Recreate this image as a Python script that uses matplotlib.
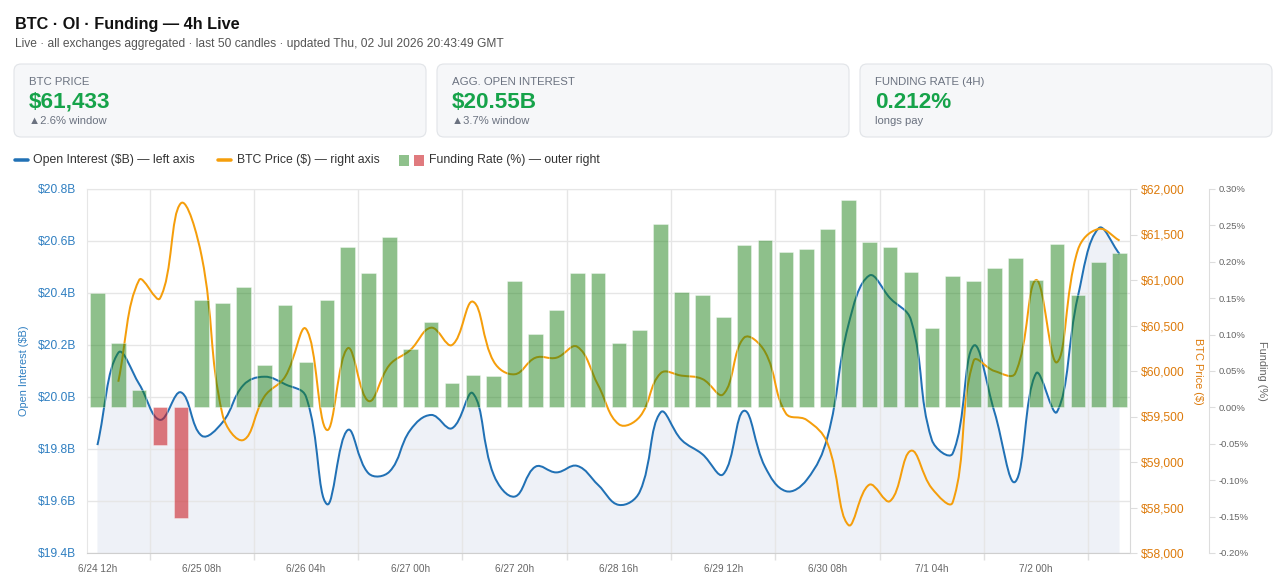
import numpy as np
import pandas as pd
import matplotlib
matplotlib.use("Agg")
import matplotlib.pyplot as plt
from matplotlib.path import Path
from matplotlib.patches import PathPatch, FancyBboxPatch, Rectangle
from matplotlib.ticker import FuncFormatter, FixedLocator

plt.rcParams['font.family'] = ['Liberation Sans', 'DejaVu Sans']

# ---- data ----
n_candles = 50
times = pd.date_range("2026-06-24 12:00", periods=n_candles, freq="4h")
tick_labels = [f"{t.month}/{t.day} {t.hour:02d}h" for t in times]

oi_b = [19.815, 20.170, 20.050, 19.912, 20.018, 19.851, 19.903, 20.046, 20.078, 20.049,
        20.001, 19.588, 19.873, 19.706, 19.713, 19.873, 19.931, 19.880, 20.014, 19.700,
        19.617, 19.732, 19.710, 19.735, 19.662, 19.585, 19.636, 19.941, 19.835, 19.780,
        19.703, 19.947, 19.732, 19.638, 19.681, 19.847, 20.277, 20.467, 20.380, 20.296,
        19.835, 19.783, 20.197, 19.943, 19.674, 20.091, 19.943, 20.386, 20.649, 20.550]

# price series starts on the 2nd candle
price = [59882, 61000, 60799, 61843, 61257, 59517, 59242, 59718, 59938, 60462, 59352, 60250,
         59670, 60066, 60231, 60476, 60286, 60762, 60103, 59964, 60146, 60146, 60267, 59846,
         59414, 59498, 59975, 59949, 59912, 59744, 60366, 60212, 59535, 59462, 59205, 58308,
         58750, 58571, 59124, 58711, 58557, 60110, 60000, 59975, 61000, 60096, 61330, 61561, 61433]
price_start = 1

funding = [0.157, 0.088, 0.0235, -0.051, -0.152, 0.147, 0.144, 0.165, 0.058, 0.141,
           0.062, 0.1475, 0.220, 0.185, 0.234, 0.080, 0.117, 0.0335, 0.0445, 0.043,
           0.174, 0.101, 0.134, 0.184, 0.185, 0.089, 0.107, 0.252, 0.1585, 0.154,
           0.124, 0.223, 0.230, 0.2135, 0.217, 0.2445, 0.285, 0.227, 0.220, 0.1865,
           0.109, 0.180, 0.1736, 0.192, 0.205, 0.1745, 0.225, 0.154, 0.1997, 0.212]

BLUE = '#2171b5'
ORANGE = '#f59e0b'
GREEN_TXT = '#16a34a'
GRID = '#e6e6e6'


def px(v):
    # pixels -> points at dpi 100
    return v * 0.72


def spline_path(x, y, sx, sy, t=0.4):
    # cubic bezier through the points, control points like chart.js (tension 0.4)
    X = np.asarray(x, float) * sx
    Y = np.asarray(y, float) * sy
    n = len(X)
    cpp = np.zeros((n, 2))
    cpn = np.zeros((n, 2))
    for i in range(n):
        a = max(i - 1, 0)
        b = min(i + 1, n - 1)
        d01 = np.hypot(X[i] - X[a], Y[i] - Y[a])
        d12 = np.hypot(X[b] - X[i], Y[b] - Y[i])
        s = d01 + d12
        fa = t * d01 / s if s else 0
        fb = t * d12 / s if s else 0
        cpp[i] = (X[i] - fa * (X[b] - X[a]), Y[i] - fa * (Y[b] - Y[a]))
        cpn[i] = (X[i] + fb * (X[b] - X[a]), Y[i] + fb * (Y[b] - Y[a]))
    verts = [(X[0], Y[0])]
    codes = [Path.MOVETO]
    for i in range(n - 1):
        verts += [tuple(cpn[i]), tuple(cpp[i + 1]), (X[i + 1], Y[i + 1])]
        codes += [Path.CURVE4] * 3
    v = np.array(verts)
    v[:, 0] /= sx
    v[:, 1] /= sy
    return v, codes


W, H = 1284, 587
fig = plt.figure(figsize=(W / 100, H / 100), dpi=100)
fig.patch.set_facecolor('white')

# overlay in pixel coords for header, cards, legend, axis titles
ov = fig.add_axes([0, 0, 1, 1])
ov.set_xlim(0, W)
ov.set_ylim(H, 0)
ov.axis('off')

ov.text(15, 24, "BTC · OI · Funding — 4h Live", fontsize=px(16.2), fontweight='bold',
        color='#111111', va='center', ha='left')
ov.text(15, 44, "Live · all exchanges aggregated · last 50 candles · updated Thu, 02 Jul 2026 20:43:49 GMT",
        fontsize=px(12), color='#555555', va='center', ha='left')

price_chg = (price[-1] / price[0] - 1) * 100
oi_chg = (oi_b[-1] / oi_b[0] - 1) * 100
cards = [
    ("BTC PRICE", f"${price[-1]:,.0f}", f"▲{price_chg:.1f}% window"),
    ("AGG. OPEN INTEREST", f"${oi_b[-1]:.2f}B", f"▲{oi_chg:.1f}% window"),
    ("FUNDING RATE (4H)", f"{funding[-1]:.3f}%", "longs pay"),
]
card_x = [14, 437, 860]
for cx, (lab, val, sub) in zip(card_x, cards):
    ov.add_patch(FancyBboxPatch((cx, 64), 412, 73, boxstyle='round,pad=0,rounding_size=7',
                                fc='#f6f7f9', ec='#e1e4e8', lw=0.8))
    ov.text(cx + 15, 82, lab, fontsize=px(11.4), color='#6b7280', va='center')
    ov.text(cx + 15, 102, val, fontsize=px(22.5), fontweight='bold', color=GREEN_TXT, va='center')
    ov.text(cx + 15, 121, sub, fontsize=px(11.3), color='#6b7280', va='center')

# legend row
ov.plot([15, 28], [160, 160], color=BLUE, lw=px(3.5), solid_capstyle='round')
ov.text(33, 160, "Open Interest ($B) — left axis", fontsize=px(12.3), color='#333333', va='center')
ov.plot([218, 231], [160, 160], color=ORANGE, lw=px(3.5), solid_capstyle='round')
ov.text(237, 160, "BTC Price ($) — right axis", fontsize=px(12.3), color='#333333', va='center')
ov.add_patch(Rectangle((399, 154.5), 10, 11, fc='#8fc18c', ec='none'))
ov.add_patch(Rectangle((414, 154.5), 10, 11, fc='#e07a7e', ec='none'))
ov.text(429, 160, "Funding Rate (%) — outer right", fontsize=px(12.3), color='#333333', va='center')

ov.text(24, 371, "Open Interest ($B)", rotation=90, fontsize=px(11), color='#2f7fc1',
        ha='center', va='center')
ov.text(1198, 371, "BTC Price ($)", rotation=270, fontsize=px(11), color='#dd7a0a',
        ha='center', va='center')
ov.text(1262, 371, "Funding (%)", rotation=270, fontsize=px(11), color='#666666',
        ha='center', va='center')

# ---- main chart ----
L, R, T, B = 87, 1130, 189, 553
ax = fig.add_axes([L / W, 1 - B / H, (R - L) / W, (B - T) / H])
ax.patch.set_alpha(0)
slot_px = (R - L) / n_candles
xs = np.arange(n_candles)

ax.set_xlim(-0.5, n_candles - 0.5)
ax.set_ylim(19.4, 20.8)
ax.yaxis.set_major_locator(FixedLocator(np.round(np.arange(19.4, 20.81, 0.2), 1)))
ax.yaxis.set_major_formatter(FuncFormatter(lambda v, p: f"${v:.1f}B"))
ax.tick_params(axis='y', length=0, pad=px(11), labelsize=px(12), labelcolor='#2f7fc1')
ax.set_xticks(xs[::5])
ax.set_xticklabels(tick_labels[::5])
ax.set_xticks(np.arange(2.5, n_candles, 5), minor=True)
ax.tick_params(axis='x', which='major', length=0, pad=px(11), labelsize=px(10), labelcolor='#666666')
ax.tick_params(axis='x', which='minor', length=px(7), color='#e0e0e0', width=1)
ax.yaxis.grid(True, color=GRID, lw=1)
ax.xaxis.grid(True, which='minor', color=GRID, lw=1)
ax.xaxis.grid(False, which='major')
for s in ('left', 'top'):
    ax.spines[s].set_color(GRID)
ax.spines['bottom'].set_color('#cfcfcf')
ax.spines['right'].set_visible(False)

# OI area + line
oi_sy = (B - T) / 1.4
verts, codes = spline_path(xs, oi_b, slot_px, oi_sy)
fill_verts = np.vstack([verts, [[xs[-1], 19.4], [xs[0], 19.4], verts[0]]])
fill_codes = codes + [Path.LINETO, Path.LINETO, Path.CLOSEPOLY]
ax.add_patch(PathPatch(Path(fill_verts, fill_codes), fc=(0.12, 0.31, 0.63, 0.075), ec='none', zorder=1))
ax.add_patch(PathPatch(Path(verts, codes), fc='none', ec=BLUE, lw=px(2), zorder=3))

# price axis
ax2 = ax.twinx()
ax2.set_ylim(58000, 62000)
ax2.yaxis.set_major_locator(FixedLocator(np.arange(58000, 62001, 500)))
ax2.yaxis.set_major_formatter(FuncFormatter(lambda v, p: f"${v:,.0f}"))
ax2.tick_params(axis='y', length=px(7), color='#dddddd', pad=px(4), labelsize=px(12), labelcolor='#dd7a0a')
for s in ('left', 'top', 'bottom'):
    ax2.spines[s].set_visible(False)
ax2.spines['right'].set_color('#d9d9d9')
px_x = xs[price_start:]
pv, pc = spline_path(px_x, price, slot_px, (B - T) / 4000)
ax2.add_patch(PathPatch(Path(pv, pc), fc='none', ec=ORANGE, lw=px(2), zorder=3))

# funding axis, outer right
ax3 = ax.twinx()
ax3.set_ylim(-0.2, 0.3)
ax3.spines['right'].set_position(('axes', (1209 - L) / (R - L)))
ax3.yaxis.set_major_locator(FixedLocator(np.round(np.arange(-0.2, 0.301, 0.05), 2)))
ax3.yaxis.set_major_formatter(FuncFormatter(lambda v, p: f"{round(v, 2) + 0:.2f}%"))
ax3.tick_params(axis='y', length=px(6), color='#dddddd', pad=px(4), labelsize=px(9.5), labelcolor='#666666')
for s in ('left', 'top', 'bottom'):
    ax3.spines[s].set_visible(False)
ax3.spines['right'].set_color('#dddddd')
bar_colors = [(0.122, 0.514, 0.098, 0.5) if f >= 0 else (0.796, 0.129, 0.157, 0.6) for f in funding]
ax3.bar(xs, funding, width=0.7, color=bar_colors, edgecolor=(1, 1, 1, 0.35), linewidth=px(1), zorder=4)

fig.savefig("out.png", dpi=100)
